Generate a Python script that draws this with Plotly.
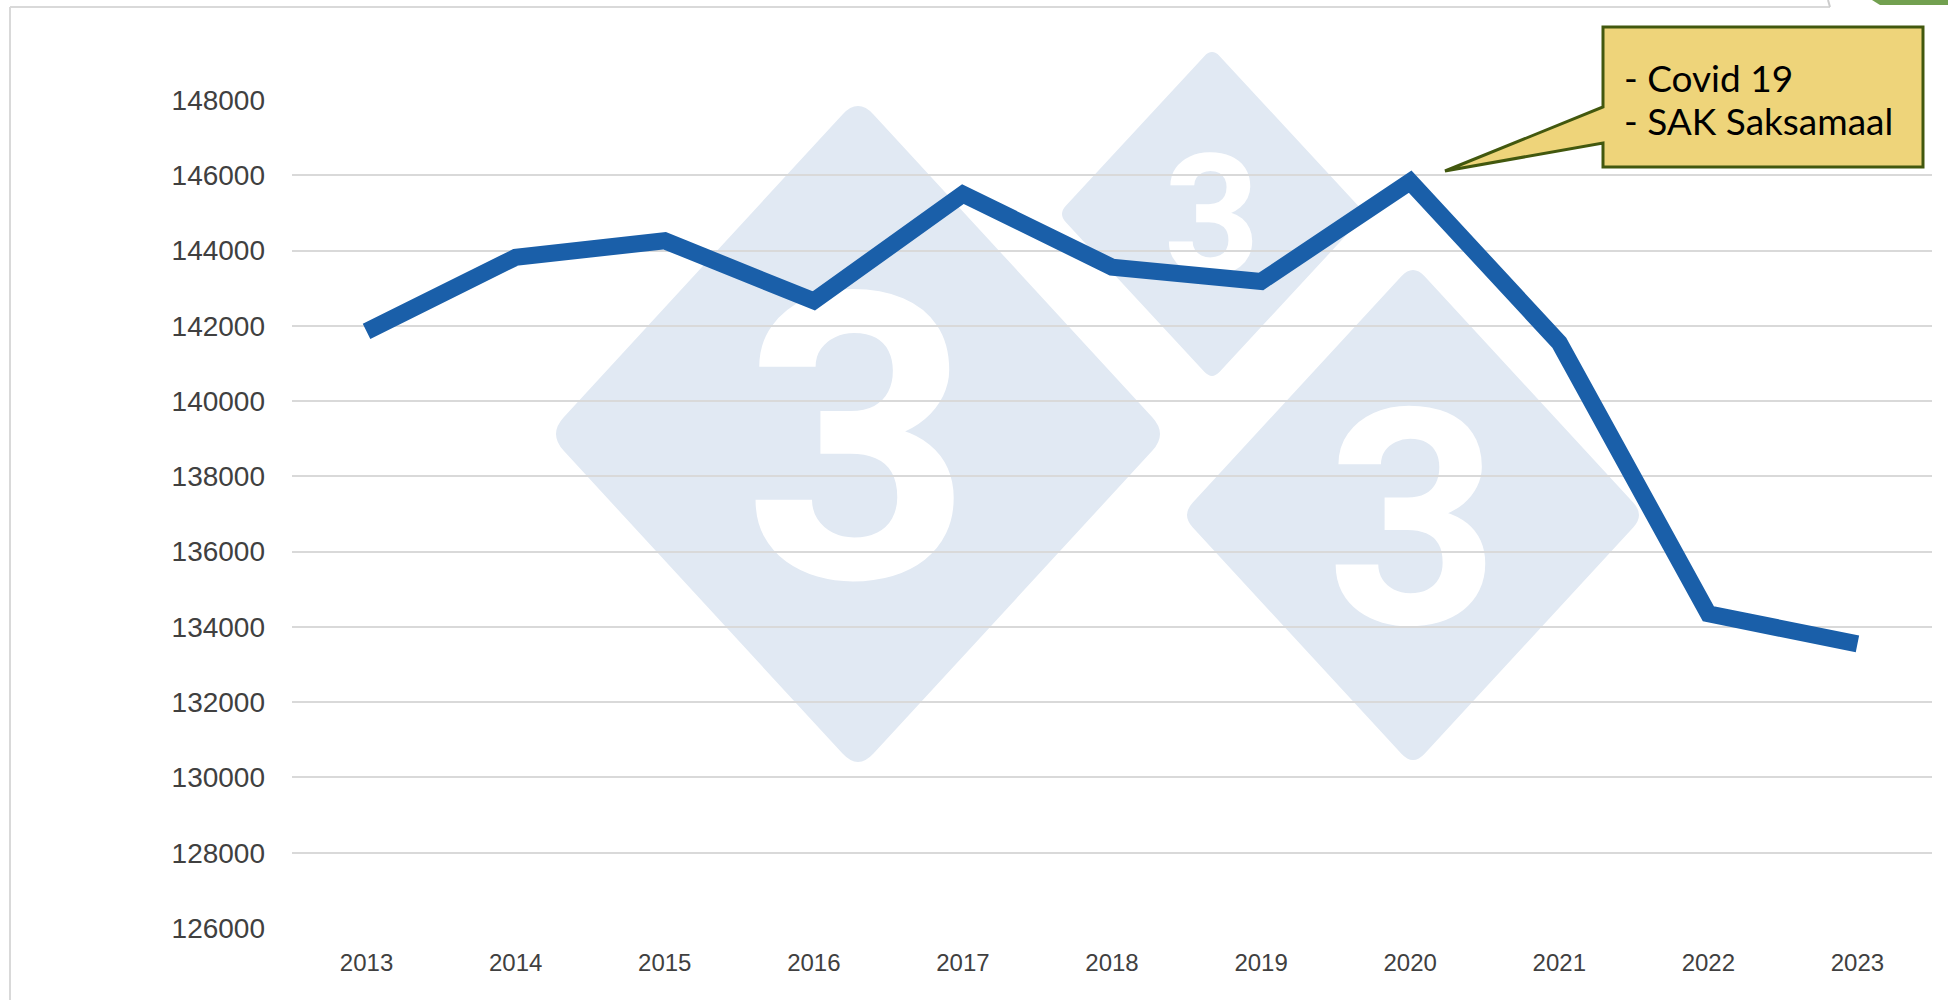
import plotly.graph_objects as go

# ---- data ----
years = ["2013", "2014", "2015", "2016", "2017", "2018", "2019", "2020", "2021", "2022", "2023"]
values = [141850, 143820, 144260, 142660, 145500, 143560, 143180, 145830, 141550, 134350, 133550]
y_ticks = [126000, 128000, 130000, 132000, 134000, 136000, 138000, 140000, 142000, 144000, 146000, 148000]
callout_lines = ["- Covid 19", "- SAK Saksamaal"]

W, H = 1948, 1000
L, R, T, B = 292, 16, 100, 72
PW, PH = W - L - R, H - T - B


def px(x, y):
    return ((x - L) / PW, (H - B - y) / PH)


def diamond_path(cx, cy, hw, hh, t=0.05):
    k = 1 / (1 - 0.5 * t)
    hw, hh = hw * k, hh * k
    verts = [(cx, cy - hh), (cx + hw, cy), (cx, cy + hh), (cx - hw, cy)]
    parts = []
    n = len(verts)
    for i in range(n):
        V = verts[i]
        P = verts[i - 1]
        N = verts[(i + 1) % n]
        A = (V[0] + (P[0] - V[0]) * t, V[1] + (P[1] - V[1]) * t)
        Bp = (V[0] + (N[0] - V[0]) * t, V[1] + (N[1] - V[1]) * t)
        a = px(*A); v = px(*V); b = px(*Bp)
        parts.append(("M" if i == 0 else "L") + f"{a[0]:.5f},{a[1]:.5f}")
        parts.append(f"Q{v[0]:.5f},{v[1]:.5f} {b[0]:.5f},{b[1]:.5f}")
    return " ".join(parts) + " Z"


fig = go.Figure()
fig.add_trace(go.Scatter(
    x=years, y=values, mode="lines",
    line=dict(color="#1a5fa9", width=17),
    hoverinfo="skip", showlegend=False,
))

shapes = []
# watermark diamonds with "3"
for cx, cy, hw, hh, fs in [(858, 434, 302, 328, 400), (1212, 214, 150, 162, 168), (1413, 515, 226, 245, 302)]:
    shapes.append(dict(
        type="path", xref="paper", yref="paper", layer="below",
        path=diamond_path(cx, cy, hw, hh),
        fillcolor="#e1e9f3", line=dict(width=0),
    ))
    off = 0.055 * fs
    lx0, ly0 = px(cx - 50, cy - 50 - off)
    lx1, ly1 = px(cx + 50, cy + 50 - off)
    shapes.append(dict(
        type="rect", xref="paper", yref="paper", layer="below",
        x0=lx0, y0=ly0, x1=lx1, y1=ly1,
        fillcolor="rgba(0,0,0,0)", line=dict(width=0),
        label=dict(text="<b>3</b>", font=dict(family="Roboto", size=fs, color="white"),
                   textposition="middle center"),
    ))

# callout box
pts = [(1603, 27), (1923, 27), (1923, 167), (1603, 167), (1603, 143), (1445, 171), (1603, 107)]
pp = [px(*p) for p in pts]
path = "M" + " L".join(f"{a:.5f},{b:.5f}" for a, b in pp) + " Z"
shapes.append(dict(type="path", xref="paper", yref="paper", layer="above", path=path,
                   fillcolor="#eed47a", line=dict(color="#42580e", width=3)))

# frame lines
x0, y0 = px(10, 7)
x1, y1 = px(10, 1000)
x2, _ = px(1830, 7)
shapes.append(dict(type="line", xref="paper", yref="paper", x0=x0, y0=y0, x1=x1, y1=y1,
                   line=dict(color="#d9d9d9", width=2), layer="above"))
shapes.append(dict(type="line", xref="paper", yref="paper", x0=x0, y0=y0, x1=x2, y1=y0,
                   line=dict(color="#d9d9d9", width=2), layer="above"))
a, b = px(1830, 7); c, d = px(1828, 0)
shapes.append(dict(type="line", xref="paper", yref="paper", x0=a, y0=b, x1=c, y1=d,
                   line=dict(color="#cccccc", width=2), layer="above"))
g0 = px(1872, 0); g1 = px(1880, 5); g2 = px(1948, 5); g3 = px(1948, 0)
shapes.append(dict(type="path", xref="paper", yref="paper", layer="above",
                   path=f"M{g0[0]},{g0[1]} L{g1[0]},{g1[1]} L{g2[0]},{g2[1]} L{g3[0]},{g3[1]} Z",
                   fillcolor="#72a050", line=dict(width=0)))

for line_text, yc in zip(callout_lines, [77, 120]):
    tx, ty = px(1622, yc)
    fig.add_annotation(
        xref="paper", yref="paper", x=tx, y=ty, xanchor="left", yanchor="middle",
        text=line_text, showarrow=False, align="left",
        font=dict(family="Lato", size=37, color="#000000"),
    )

fig.update_layout(
    width=W, height=H,
    margin=dict(l=L, r=R, t=T, b=B, pad=0),
    paper_bgcolor="white", plot_bgcolor="white",
    shapes=shapes,
    showlegend=False,
    xaxis=dict(type="category", range=[-0.5, len(years) - 0.5], showgrid=False, zeroline=False,
               showline=False, ticks="",
               tickfont=dict(family="Liberation Sans", size=24, color="#404040"),
               ticklabelstandoff=18),
    yaxis=dict(range=[126000, 148000], tickvals=y_ticks, ticktext=[str(v) for v in y_ticks],
               showgrid=True, gridcolor="#d9d9d9", gridwidth=2, zeroline=False, showline=False,
               ticks="", tickfont=dict(family="Liberation Sans", size=28, color="#404040"),
               ticklabelstandoff=26),
)

fig.write_html("out.html", config={"displayModeBar": False},
               post_script="document.body.style.margin='0px';")
